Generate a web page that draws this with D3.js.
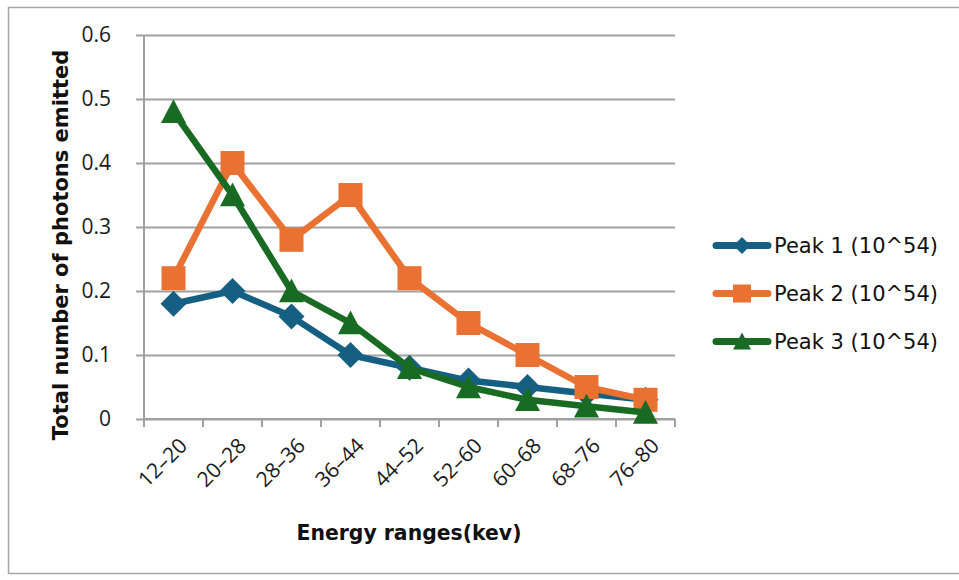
<!DOCTYPE html>
<html>
<head>
<meta charset="utf-8">
<script src="https://cdn.jsdelivr.net/npm/d3@7"></script>
<style>
  html, body { margin: 0; padding: 0; background: #fff; }
  svg { display: block; font-family: "DejaVu Sans", "Open Sans", Arial, sans-serif; }
</style>
</head>
<body>
<svg id="chart" width="959" height="580"></svg>
<script>
// Energy bins on the x axis
const categories = ["12–20", "20–28", "28–36", "36–44", "44–52", "52–60", "60–68", "68–76", "76–80"];

// Photon counts per bin (units of 10^54)
const peak1 = [0.18, 0.20, 0.16, 0.10, 0.08, 0.06, 0.05, 0.04, 0.03];
const peak2 = [0.22, 0.40, 0.28, 0.35, 0.22, 0.15, 0.10, 0.05, 0.03];
const peak3 = [0.48, 0.35, 0.20, 0.15, 0.08, 0.05, 0.03, 0.02, 0.01];

const seriesNames = ["Peak 1 (10^54)", "Peak 2 (10^54)", "Peak 3 (10^54)"];
const yTicks = [0, 0.1, 0.2, 0.3, 0.4, 0.5, 0.6];

const series = [
  { name: seriesNames[0], values: peak1, color: "#156082", symbol: "diamond" },
  { name: seriesNames[1], values: peak2, color: "#E97132", symbol: "square" },
  { name: seriesNames[2], values: peak3, color: "#196B24", symbol: "triangle" }
];

const svg = d3.select("#chart");

// Outer chart frame
svg.append("rect")
  .attr("x", 8.5).attr("y", 7.5)
  .attr("width", 960).attr("height", 566)
  .attr("fill", "#fff").attr("stroke", "#a6a6a6").attr("stroke-width", 1.5);

const plot = { left: 144, right: 675, top: 35, bottom: 419 };

const x = d3.scaleBand().domain(categories).range([plot.left, plot.right]).padding(0);
const y = d3.scaleLinear().domain([0, 0.6]).range([plot.bottom, plot.top]);

const grid = "#a0a0a0";
const textColor = "#1a1a1a";

// Horizontal gridlines with short outside ticks
const yAxis = d3.axisLeft(y).tickValues(yTicks).tickSize(plot.right - plot.left + 8)
  .tickFormat(d => d === 0 ? "0" : d3.format(".1f")(d)).tickPadding(25);
const gy = svg.append("g").attr("transform", `translate(${plot.right},0)`).call(yAxis);
gy.select(".domain").remove();
gy.selectAll(".tick line").attr("stroke", grid).attr("stroke-width", 2);
gy.selectAll(".tick text").attr("font-size", 21).attr("fill", textColor)
  .attr("font-family", "Open Sans, Liberation Sans, Arial, sans-serif");

// Vertical y axis line
svg.append("line")
  .attr("x1", plot.left).attr("x2", plot.left)
  .attr("y1", plot.top).attr("y2", plot.bottom)
  .attr("stroke", grid).attr("stroke-width", 2);

// X axis with tick marks on band boundaries
const boundaries = categories.map(c => x(c)).concat([plot.right]);
svg.append("line")
  .attr("x1", plot.left).attr("x2", plot.right)
  .attr("y1", plot.bottom).attr("y2", plot.bottom)
  .attr("stroke", grid).attr("stroke-width", 2);
svg.append("g").selectAll("line").data(boundaries).join("line")
  .attr("x1", d => d).attr("x2", d => d)
  .attr("y1", plot.bottom).attr("y2", plot.bottom + 8)
  .attr("stroke", grid).attr("stroke-width", 2);

// Rotated category labels
svg.append("g").selectAll("text").data(categories).join("text")
  .attr("transform", d => `translate(${x(d) + x.bandwidth() / 2 + 11},${plot.bottom + 24}) rotate(-45)`)
  .attr("text-anchor", "end")
  .attr("dominant-baseline", "middle")
  .attr("font-size", 21).attr("fill", textColor)
  .attr("font-family", "Open Sans, Liberation Sans, Arial, sans-serif")
  .text(d => d);

// Axis titles
svg.append("text")
  .attr("x", 409).attr("y", 540)
  .attr("text-anchor", "middle").attr("font-weight", "bold").attr("font-size", 20.4).attr("fill", "#111")
  .text("Energy ranges(kev)");
svg.append("text")
  .attr("transform", `translate(68,245) rotate(-90)`)
  .attr("text-anchor", "middle").attr("font-weight", "bold").attr("font-size", 21).attr("fill", "#111")
  .text("Total number of photons emitted");

// Marker shapes drawn inside a box of side sqrt(size), centred on the point
const boxSymbol = draw => ({ draw(ctx, size) { draw(ctx, Math.sqrt(size) / 2); } });
const symbolType = {
  diamond: boxSymbol((c, r) => { c.moveTo(0, -r); c.lineTo(r, 0); c.lineTo(0, r); c.lineTo(-r, 0); c.closePath(); }),
  square: boxSymbol((c, r) => { c.rect(-r, -r, 2 * r, 2 * r); }),
  triangle: boxSymbol((c, r) => { c.moveTo(0, -r); c.lineTo(r, r * 0.9); c.lineTo(-r, r * 0.9); c.closePath(); })
};
const markerBox = { diamond: 26, square: 24, triangle: 25 };
const legendBox = { diamond: 17, square: 18, triangle: 18 };

const line = d3.line()
  .x((d, i) => x(categories[i]) + x.bandwidth() / 2)
  .y(d => y(d));

series.forEach(s => {
  const g = svg.append("g");
  g.append("path").datum(s.values)
    .attr("d", line).attr("fill", "none")
    .attr("stroke", s.color).attr("stroke-width", 6.5)
    .attr("stroke-linejoin", "round").attr("stroke-linecap", "round");
  g.selectAll("path.m").data(s.values).join("path").attr("class", "m")
    .attr("transform", (d, i) => `translate(${x(categories[i]) + x.bandwidth() / 2},${y(d)})`)
    .attr("d", d3.symbol().type(symbolType[s.symbol]).size(markerBox[s.symbol] ** 2))
    .attr("fill", s.color);
});

// Legend
const legend = svg.append("g");
series.forEach((s, i) => {
  const ly = 245.5 + i * 48;
  legend.append("line")
    .attr("x1", 716).attr("x2", 768).attr("y1", ly).attr("y2", ly)
    .attr("stroke", s.color).attr("stroke-width", 7).attr("stroke-linecap", "round");
  legend.append("path")
    .attr("transform", `translate(742,${ly})`)
    .attr("d", d3.symbol().type(symbolType[s.symbol]).size(legendBox[s.symbol] ** 2))
    .attr("fill", s.color);
  legend.append("text")
    .attr("x", 774).attr("y", ly).attr("dominant-baseline", "central")
    .attr("font-size", 21).attr("fill", "#111")
    .text(s.name);
});
</script>
</body>
</html>
